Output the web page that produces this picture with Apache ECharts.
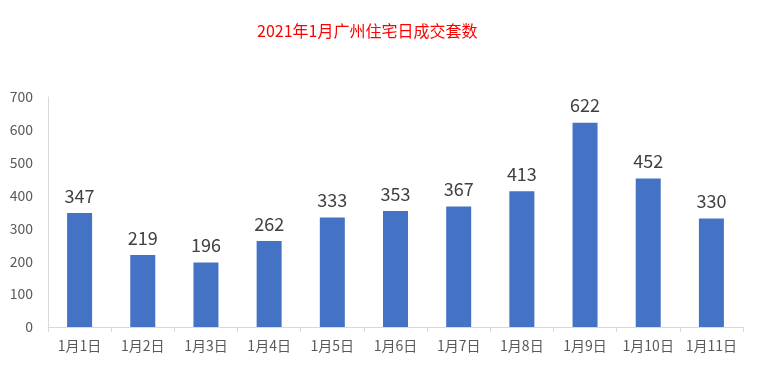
<!DOCTYPE html>
<html><head><meta charset="utf-8">
<script src="https://cdn.jsdelivr.net/npm/echarts@6/dist/echarts.min.js"></script>
<style>html,body{margin:0;padding:0;background:#fff}#c{width:757px;height:384px}</style>
</head><body><div id="c"></div>
<script>
const categories = ["1月1日","1月2日","1月3日","1月4日","1月5日","1月6日","1月7日","1月8日","1月9日","1月10日","1月11日"];
const values = [347,219,196,262,333,353,367,413,622,452,330];
const titleText = "2021年1月广州住宅日成交套数";
const font = '"Noto Sans CJK SC", "Noto Sans", sans-serif';
const chart = echarts.init(document.getElementById('c'), null, {renderer:'canvas'});
chart.setOption({
  animation:false,
  backgroundColor:'#fff',
  title:{text:titleText,left:252,top:18,textStyle:{color:'#FF0000',fontSize:16,fontWeight:'normal',fontFamily:font}},
  grid:{left:48,right:14,top:97,bottom:57,containLabel:false},
  xAxis:{type:'category',data:categories,boundaryGap:true,
    axisLine:{lineStyle:{color:'#D9D9D9',width:1}},
    axisTick:{show:true,length:5,lineStyle:{color:'#D9D9D9'}},
    axisLabel:{color:'#595959',fontSize:14,fontFamily:font,margin:12,interval:0}},
  yAxis:{type:'value',min:0,max:700,interval:100,
    axisLine:{show:true,lineStyle:{color:'#D9D9D9'}},
    axisTick:{show:false},splitLine:{show:false},
    axisLabel:{color:'#595959',fontSize:14,fontFamily:font,margin:15}},
  series:[{type:'bar',data:values,barWidth:25,itemStyle:{color:'#4472C4'},
    label:{show:true,position:'top',distance:8,color:'#404040',fontSize:18,fontFamily:font}}]
});
</script></body></html>
